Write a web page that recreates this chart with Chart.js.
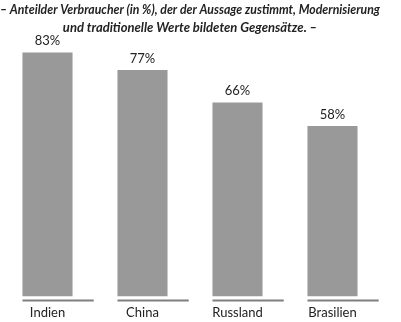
<!DOCTYPE html>
<html>
<head>
<meta charset="utf-8">
<script src="https://cdn.jsdelivr.net/npm/chart.js@4"></script>
<style>
  html, body { margin: 0; padding: 0; background: #fff; }
  #wrap { width: 401px; height: 322px; }
</style>
</head>
<body>
<div id="wrap"><canvas id="chart"></canvas></div>
<script>
const titleLines = [
    '– Anteilder Verbraucher (in %), der der Aussage zustimmt, Modernisierung',
    'und traditionelle Werte bildeten Gegensätze. –'
];
const countries = ['Indien', 'China', 'Russland', 'Brasilien'];
const shares = [83, 77, 66, 58];

const FONT = 'Lato, "Open Sans", sans-serif';

// value labels above each bar
const valueLabels = {
    id: 'valueLabels',
    afterDatasetsDraw(chart) {
        const ctx = chart.ctx;
        const meta = chart.getDatasetMeta(0);
        ctx.save();
        ctx.font = '13px ' + FONT;
        ctx.fillStyle = '#222';
        ctx.textAlign = 'center';
        ctx.textBaseline = 'bottom';
        meta.data.forEach((bar, i) => {
            ctx.fillText(shares[i] + '%', bar.x, bar.y - 5);
        });
        ctx.restore();
    }
};

// short baseline under each category
const baseLines = {
    id: 'baseLines',
    afterDatasetsDraw(chart) {
        const ctx = chart.ctx;
        const xs = chart.scales.x;
        const step = xs.getPixelForValue(1) - xs.getPixelForValue(0);
        const meta = chart.getDatasetMeta(0);
        const y = chart.chartArea.bottom + 4;
        ctx.save();
        ctx.strokeStyle = '#7f7f7f';
        ctx.lineWidth = 2;
        meta.data.forEach(bar => {
            const left = bar.x - bar.width / 2;
            ctx.beginPath();
            ctx.moveTo(left, y);
            ctx.lineTo(left + step * 0.75, y);
            ctx.stroke();
        });
        ctx.restore();
    }
};

new Chart(document.getElementById('chart'), {
    type: 'bar',
    data: {
        labels: countries,
        datasets: [{
            data: shares,
            backgroundColor: '#999999',
            categoryPercentage: 1,
            barPercentage: 0.527
        }]
    },
    options: {
        responsive: true,
        maintainAspectRatio: false,
        animation: false,
        layout: { padding: { left: 0, right: 21, top: 0, bottom: -8 } },
        plugins: {
            legend: { display: false },
            tooltip: { enabled: false },
            title: {
                display: true,
                text: titleLines,
                color: '#222',
                font: { family: FONT, size: 13, style: 'italic', lineHeight: 1.35 },
                padding: { top: 1, bottom: 9 }
            }
        },
        scales: {
            x: {
                grid: { display: false, drawTicks: false, tickLength: 0 },
                border: { display: false },
                ticks: { color: '#222', font: { family: FONT, size: 13 }, padding: 9 }
            },
            y: {
                display: false,
                min: 0,
                max: 85.5
            }
        }
    },
    plugins: [valueLabels, baseLines]
});
</script>
</body>
</html>
